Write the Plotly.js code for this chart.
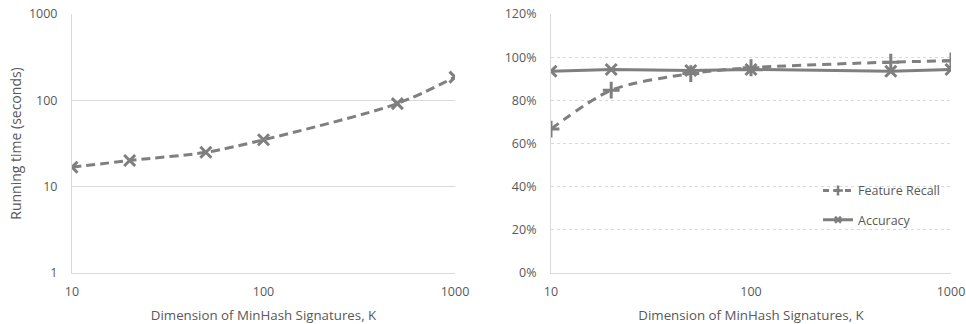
<!DOCTYPE html>
<html>
<head>
<meta charset="utf-8">
<script src="https://cdn.plot.ly/plotly-3.0.1.min.js"></script>
<style>html,body{margin:0;padding:0;background:#fff;}#chart{width:966px;height:324px;}</style>
</head>
<body>
<div id="chart"></div>
<script>
// Data
const dimensionsK = [10, 20, 50, 100, 500, 1000];
const runningTimeSec = [16.8, 20.1, 25.0, 34.9, 91.6, 186];
const featureRecall = [0.667, 0.847, 0.924, 0.951, 0.977, 0.983];
const accuracy = [0.935, 0.943, 0.938, 0.943, 0.935, 0.943];
const seriesNames = ['Feature Recall', 'Accuracy'];
const xTickVals = [10, 100, 1000];
const xTickText = ['10', '100', '1000'];
const yLeftTickVals = [1, 10, 100, 1000];
const yLeftTickText = ['1', '10', '100', '1000'];

const gray = '#7f7f7f';
const txt = '#595959';
const fam = 'Open Sans, sans-serif';
const font = {family: fam, size: 12.5, color: txt};

const traces = [
  {
    x: dimensionsK, y: runningTimeSec, xaxis: 'x', yaxis: 'y',
    mode: 'lines+markers', showlegend: false, name: 'Running time',
    line: {color: gray, width: 3, dash: '9px,5px', shape: 'spline', smoothing: 0.8},
    marker: {symbol: 'x-thin', size: 11, color: gray, line: {color: gray, width: 3}}
  },
  {
    x: dimensionsK, y: featureRecall, xaxis: 'x2', yaxis: 'y2',
    mode: 'lines+markers', name: seriesNames[0], showlegend: false,
    line: {color: gray, width: 3, dash: '9px,6px', shape: 'spline', smoothing: 0.8},
    marker: {symbol: 'cross-thin', size: 12, color: gray, line: {color: gray, width: 3}}
  },
  {
    x: dimensionsK, y: accuracy, xaxis: 'x2', yaxis: 'y2',
    mode: 'lines+markers', name: seriesNames[1], showlegend: false,
    line: {color: gray, width: 3},
    marker: {symbol: 'x-thin', size: 11, color: gray, line: {color: gray, width: 3}}
  },
  // legend-only entries with smaller symbols
  {
    x: [null], y: [null], xaxis: 'x2', yaxis: 'y2',
    mode: 'lines+markers', name: seriesNames[0], legendgroup: 'a',
    line: {color: gray, width: 3, dash: '6px,5px'},
    marker: {symbol: 'cross-thin', size: 7, color: gray, line: {color: gray, width: 2.5}}
  },
  {
    x: [null], y: [null], xaxis: 'x2', yaxis: 'y2',
    mode: 'lines+markers', name: seriesNames[1], legendgroup: 'b',
    line: {color: gray, width: 3},
    marker: {symbol: 'x-thin', size: 6, color: gray, line: {color: gray, width: 2.5}}
  }
];

const xCommon = {
  type: 'log', range: [1, 3], tickvals: xTickVals, ticktext: xTickText,
  showgrid: false, zeroline: false, showline: true, linecolor: '#d9d9d9', linewidth: 1,
  ticks: '', tickfont: font, ticklabelstandoff: 7,
  title: {text: 'Dimension of MinHash Signatures, K', font: {family: fam, size: 13.3, color: txt}, standoff: 12}
};

const layout = {
  width: 966, height: 324,
  margin: {l: 0, r: 0, t: 14, b: 51},
  paper_bgcolor: '#fff', plot_bgcolor: '#fff',
  font: font,
  xaxis: Object.assign({}, xCommon, {domain: [72/966, 455/966], anchor: 'y'}),
  yaxis: {
    type: 'log', range: [0, 3], tickvals: yLeftTickVals, ticktext: yLeftTickText,
    showgrid: true, gridcolor: '#d9d9d9', gridwidth: 1, zeroline: false,
    showline: true, linecolor: '#d9d9d9', ticks: '', tickfont: font, anchor: 'x',
    ticklabelstandoff: 11,
    title: {text: 'Running time (seconds)', font: {family: fam, size: 14, color: txt}, standoff: 4}
  },
  xaxis2: Object.assign({}, xCommon, {domain: [551/966, 951/966], anchor: 'y2'}),
  yaxis2: {
    range: [0, 1.2], dtick: 0.2, tickformat: '.0%',
    showgrid: true, gridcolor: '#d9d9d9', griddash: '3px,3px', gridwidth: 1, zeroline: false,
    showline: true, linecolor: '#d9d9d9', ticks: '', tickfont: font, anchor: 'x2',
    ticklabelstandoff: 11
  },
  showlegend: true,
  legend: {
    x: 818/966, y: 0.375, xanchor: 'left', yanchor: 'top',
    bgcolor: 'rgba(0,0,0,0)', font: {family: fam, size: 12.5, color: txt},
    traceorder: 'grouped', tracegroupgap: 10
  }
};

Plotly.newPlot('chart', traces, layout, {displayModeBar: false, staticPlot: true});
</script>
</body>
</html>
